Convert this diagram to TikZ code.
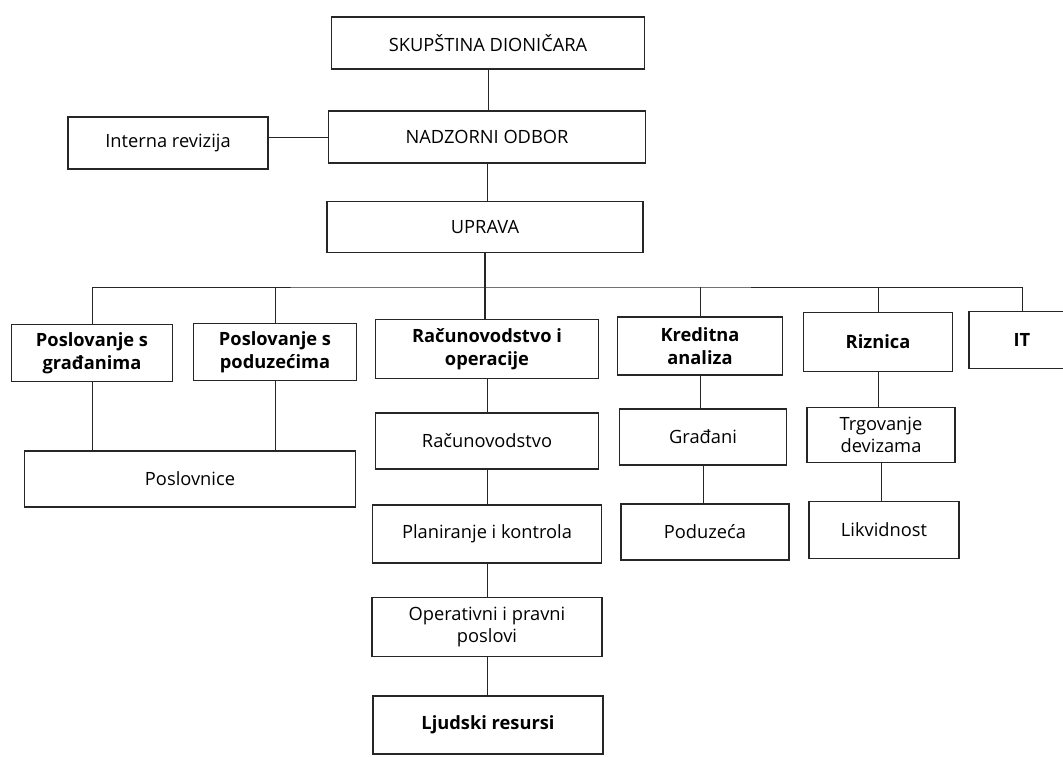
\documentclass[tikz,border=0pt]{standalone}
\usepackage{fontspec}
\setmainfont{Open Sans}
\begin{document}
\begin{tikzpicture}[x=0.025cm, y=-0.025cm,
          font=\fontsize{13}{16}\selectfont,
          unit/.style={draw=black!85, line width=0.9pt, align=center, inner sep=2pt},
          dept/.style={unit, font=\fontsize{13}{16}\selectfont\bfseries},
          link/.style={black!85, line width=0.6pt},
          trunk/.style={black!85, line width=1.1pt}]
        \useasboundingbox (0,0) rectangle (1063,756);
        \node[unit, minimum width=7.825cm, minimum height=1.3cm] (skup) at (488,43) {SKUPŠTINA DIONIČARA};
        \node[unit, minimum width=7.925cm, minimum height=1.3cm] (nadz) at (487,137) {NADZORNI ODBOR};
        \node[unit, minimum width=5cm, minimum height=1.3cm] (intrev) at (168,143) {Interna revizija};
        \node[unit, minimum width=7.9cm, minimum height=1.275cm] (uprava) at (485,227) {UPRAVA};
        \node[dept, minimum width=4.025cm, minimum height=1.425cm] (gradj) at (92,353) {Poslovanje s\\građanima};
        \node[dept, minimum width=4.075cm, minimum height=1.425cm] (podu) at (275,352) {Poslovanje s\\poduzećima};
        \node[dept, minimum width=5.575cm, minimum height=1.475cm] (racop) at (487,349) {Računovodstvo i\\operacije};
        \node[dept, minimum width=4.125cm, minimum height=1.45cm] (kred) at (700,346) {Kreditna\\analiza};
        \node[dept, minimum width=3.725cm, minimum height=1.475cm] (riz) at (878,342) {Riznica};
        \node[dept, minimum width=2.65cm, minimum height=1.425cm] (it) at (1022,340) {IT};
        \node[unit, minimum width=8.275cm, minimum height=1.4cm] (posl) at (190,479) {Poslovnice};
        \node[unit, minimum width=5.575cm, minimum height=1.4cm] (racun) at (487,441) {Računovodstvo};
        \node[unit, minimum width=4.175cm, minimum height=1.4cm] (gradjani) at (703,437) {Građani};
        \node[unit, minimum width=3.7cm, minimum height=1.375cm] (trg) at (881,435) {Trgovanje\\devizama};
        \node[unit, minimum width=5.725cm, minimum height=1.45cm] (plan) at (487,534) {Planiranje i kontrola};
        \node[unit, minimum width=4.2cm, minimum height=1.4cm] (poduz) at (705,532) {Poduzeća};
        \node[unit, minimum width=3.75cm, minimum height=1.425cm] (likv) at (884,530) {Likvidnost};
        \node[unit, minimum width=5.75cm, minimum height=1.475cm] (oper) at (487,627) {Operativni i pravni\\poslovi};
        \node[dept, minimum width=5.75cm, minimum height=1.45cm] (ljud) at (488,725) {Ljudski resursi};
        \coordinate (bus) at (485,287);
        \draw[link] (skup.south) -- (skup.south |- nadz.north);
        \draw[link] (nadz.west) -- (nadz.west -| intrev.east);
        \draw[link] (nadz.south) -- (nadz.south |- uprava.north);
        \draw[trunk] (uprava.south) -- (uprava.south |- racop.north);
        \draw[link] (gradj.north) |- (bus) -| (it.north);
        \foreach \n in {podu, kred, riz}
          \draw[link] (\n.north) -- (\n.north |- bus);
        \foreach \a/\b in {gradj/posl, podu/posl, racop/racun, racun/plan, plan/oper, oper/ljud, kred/gradjani, gradjani/poduz, riz/trg, trg/likv}
          \draw[link] (\a.south) -- (\a.south |- \b.north);
      \end{tikzpicture}
\end{document}
